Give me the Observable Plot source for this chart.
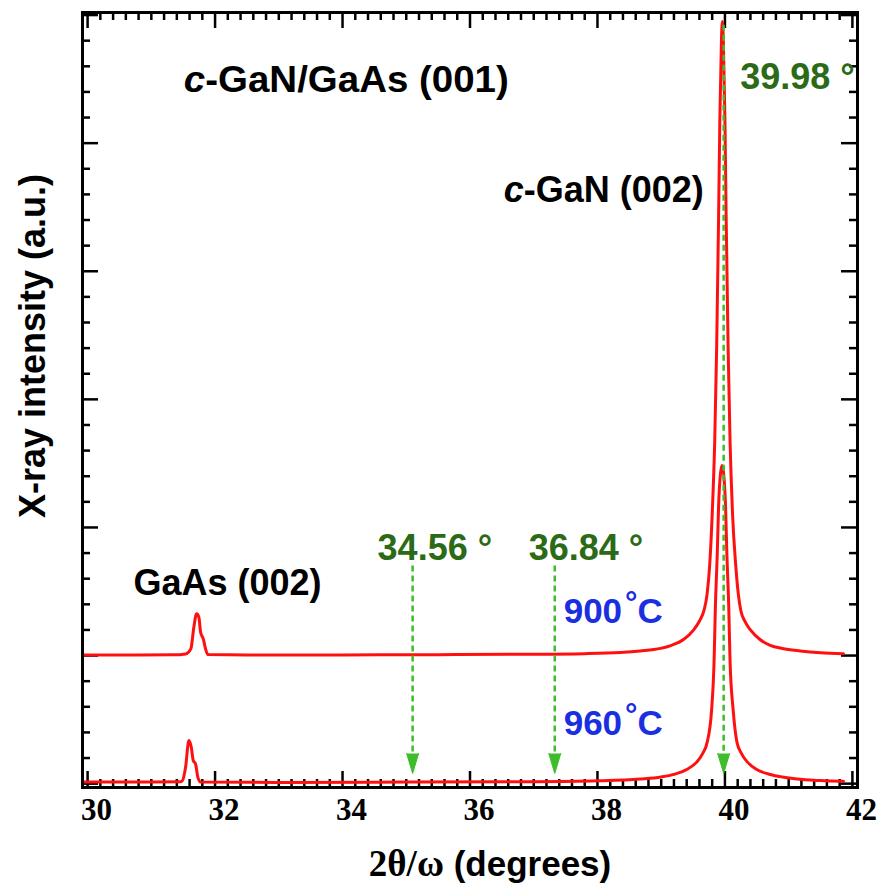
<!DOCTYPE html>
<html><head><meta charset="utf-8">
<script src="https://cdn.jsdelivr.net/npm/d3@7"></script>
<script src="https://cdn.jsdelivr.net/npm/@observablehq/plot@0.6"></script>
<style>body{margin:0;background:#fff;} #chart svg{display:block;}</style>
</head><body><div id="chart"></div>
<script>
// ---- data ----
const x900 = [29.93,30.8,31.35,31.54,31.62,31.667,31.71,31.746,31.773,31.815,31.851,31.887,32.5,34.0,35.5,36.8,37.8,38.36,38.67,38.99,39.15,39.35,39.51,39.60,39.67,39.72,39.76,39.80,39.84,39.87,39.90,39.92,39.945,39.96,39.975,40.00,40.02,40.05,40.08,40.12,40.17,40.21,40.25,40.31,40.40,40.55,40.71,40.90,41.18,41.5,41.86];
const y900 = [1.005,1.005,1.006,1.013,1.052,1.221,1.326,1.299,1.182,1.130,1.052,1.008,1.005,1.005,1.007,1.010,1.015,1.024,1.036,1.056,1.078,1.125,1.20,1.27,1.35,1.48,1.70,2.10,2.68,3.40,4.40,5.18,5.80,5.95,5.80,5.18,4.40,3.40,2.68,2.10,1.70,1.48,1.35,1.27,1.20,1.125,1.08,1.055,1.036,1.022,1.015];
const x960 = [29.93,31.0,31.45,31.486,31.537,31.589,31.627,31.658,31.694,31.730,31.773,33.0,35.0,37.0,38.0,38.67,39.0,39.20,39.40,39.56,39.65,39.72,39.79,39.83,39.85,39.88,39.90,39.93,39.955,39.98,40.01,40.03,40.06,40.08,40.13,40.19,40.26,40.35,40.50,40.71,40.9,41.13,41.5,41.86];
const y960 = [0.012,0.012,0.014,0.023,0.127,0.336,0.284,0.180,0.154,0.049,0.012,0.010,0.012,0.015,0.022,0.036,0.052,0.072,0.11,0.17,0.235,0.32,0.570,0.961,1.377,1.80,2.16,2.42,2.484,2.42,2.16,1.80,1.377,0.961,0.570,0.32,0.235,0.17,0.11,0.072,0.052,0.036,0.024,0.018];

const xTickLabels = [30,32,34,36,38,40,42];
const yMajor = [0,1,2,3,4,5,6];

const noteText = ["c-GaN/GaAs (001)", "c-GaN (002)", "GaAs (002)"];
const noteX = [31.51, 36.53, 30.72];
const noteY = [5.49, 4.63, 1.56];

const tempText = ["900°C", "960°C"];
const tempX = [37.47, 37.47];
const tempY = [1.34, 0.47];

const peakText = ["34.56 °", "36.84 °", "39.98 °"];
const peakLabelX = [34.55, 36.92, 40.24];
const peakLabelY = [1.836, 1.836, 5.51];
const arrowX = [35.10, 37.33, 39.98];
const arrowTop = [1.70, 1.70, 5.92];
const arrowTip = [0.08, 0.08, 0.08];

// ---- build tables ----
const s900 = x900.map((x, i) => ({x, y: y900[i]}));
const s960 = x960.map((x, i) => ({x, y: y960[i]}));
const notes = noteText.map((t, i) => ({t, x: noteX[i], y: noteY[i]}));
const temps = tempText.map((t, i) => ({t, x: tempX[i], y: tempY[i]}));
const peaks = peakText.map((t, i) => ({t, x: peakLabelX[i], y: peakLabelY[i]}));
const arrows = arrowX.map((x, i) => ({x, y1: arrowTop[i], y2: arrowTip[i]}));

const xMajor = xTickLabels;
const xMinor = d3.range(30, 42.001, 0.2).map(v => +v.toFixed(1)).filter(v => Math.abs(v / 2 - Math.round(v / 2)) > 1e-6);
const yMinor = d3.range(0, 6.001, 0.2).map(v => +v.toFixed(1)).filter(v => Math.abs(v - Math.round(v)) > 1e-6);

const W = 882, H = 896, mL = 82, mR = 25, mT = 12, mB = 109;
const pW = W - mL - mR, pH = H - mT - mB;
const minorLen = 8, majorLen = 16;

const RED = "#ff1010", GREEN_ARROW = "#3dbd2a", GREEN_TEXT = "#2b6a16", BLUE = "#1a2fe0";
const SANS = "Liberation Sans, Arial, sans-serif";
const SERIF = "Liberation Serif, Times New Roman, serif";

const chart = Plot.plot({
  width: W, height: H,
  marginLeft: mL, marginRight: mR, marginTop: mT, marginBottom: mB,
  x: {domain: [29.92, 42.08], axis: null},
  y: {domain: [-0.03, 6.02], axis: null},
  style: {background: "white", fontFamily: SANS},
  marks: [
    // ticks (inward, all four sides)
    Plot.ruleX(xMinor, {x: d => d, insetTop: pH - minorLen, strokeWidth: 2.5}),
    Plot.ruleX(xMinor, {x: d => d, insetBottom: pH - minorLen, strokeWidth: 2.5}),
    Plot.ruleX(xMajor, {x: d => d, insetTop: pH - majorLen, strokeWidth: 2.5}),
    Plot.ruleX(xMajor, {x: d => d, insetBottom: pH - majorLen, strokeWidth: 2.5}),
    Plot.ruleY(yMinor, {y: d => d, insetRight: pW - minorLen, strokeWidth: 2.5}),
    Plot.ruleY(yMinor, {y: d => d, insetLeft: pW - minorLen, strokeWidth: 2.5}),
    Plot.ruleY(yMajor, {y: d => d, insetRight: pW - majorLen, strokeWidth: 2.5}),
    Plot.ruleY(yMajor, {y: d => d, insetLeft: pW - majorLen, strokeWidth: 2.5}),
    // curves
    Plot.line(s900, {x: "x", y: "y", stroke: RED, strokeWidth: 3, curve: "monotone-x"}),
    Plot.line(s960, {x: "x", y: "y", stroke: RED, strokeWidth: 3, curve: "monotone-x"}),
    // dashed arrows
    Plot.ruleX(arrows, {x: "x", y1: "y1", y2: d => d.y2 + 0.1, stroke: GREEN_ARROW, strokeWidth: 2.5, strokeDasharray: "6,4"}),
    Plot.vector(arrows, {x: "x", y: "y2", length: 20, rotate: 180, anchor: "end", shape: "spike", r: 6, fill: GREEN_ARROW, stroke: GREEN_ARROW, strokeWidth: 1}),
    Plot.frame({strokeWidth: 3}),
    // tick labels
    Plot.text(xTickLabels, {x: d => d, frameAnchor: "bottom", dy: 32, dx: 9, text: d => String(d), fontSize: 31, fontWeight: "bold", fontFamily: SERIF}),
    // axis titles
    Plot.text(["2θ/ω (degrees)"], {frameAnchor: "bottom", dy: 88, dx: 20, fontSize: 35, fontWeight: "bold"}),
    Plot.text(["X-ray intensity (a.u.)"], {frameAnchor: "left", textAnchor: "middle", dx: -49, dy: -54, rotate: -90, fontSize: 36, fontWeight: "bold"}),
    // annotations
    Plot.text(notes, {x: "x", y: "y", text: "t", textAnchor: "start", fontSize: d => d.t.includes("/") ? 37 : 36, fontWeight: "bold", fill: "black"}),
    Plot.text(peaks, {x: "x", y: "y", text: "t", textAnchor: "start", fontSize: 36, fontWeight: "bold", fill: GREEN_TEXT}),
    Plot.text(temps, {x: "x", y: "y", text: "t", textAnchor: "start", fontSize: 35, fontWeight: "bold", fill: BLUE})
  ]
});

// rich text fix-ups (italic c, serif 2θ/ω, superscript degree)
const NS = "http://www.w3.org/2000/svg";
function span(parent, txt, attrs) {
  const ts = document.createElementNS(NS, "tspan");
  ts.textContent = txt;
  for (const k in attrs) ts.setAttribute(k, attrs[k]);
  parent.appendChild(ts);
}
chart.querySelectorAll("text").forEach(t => {
  const s = t.textContent;
  if (s.startsWith("c-GaN")) {
    t.textContent = "";
    span(t, "c", {"font-style": "italic"});
    span(t, s.slice(1), {});
    if (s.includes("/")) t.setAttribute("transform", (t.getAttribute("transform") || "") + " scale(1.04,1)");
  } else if (s === "2θ/ω (degrees)") {
    t.textContent = "";
    span(t, "2θ/ω", {"font-family": SERIF, "font-size": "37"});
    span(t, " (degrees)", {});
  } else if (/^9[06]0°C$/.test(s)) {
    t.textContent = "";
    span(t, s.slice(0, 3), {});
    span(t, "°", {"dy": "-10", "dx": "3", "font-size": "31"});
    span(t, "C", {"dy": "10"});
  }
});

document.getElementById("chart").appendChild(chart);
</script></body></html>
